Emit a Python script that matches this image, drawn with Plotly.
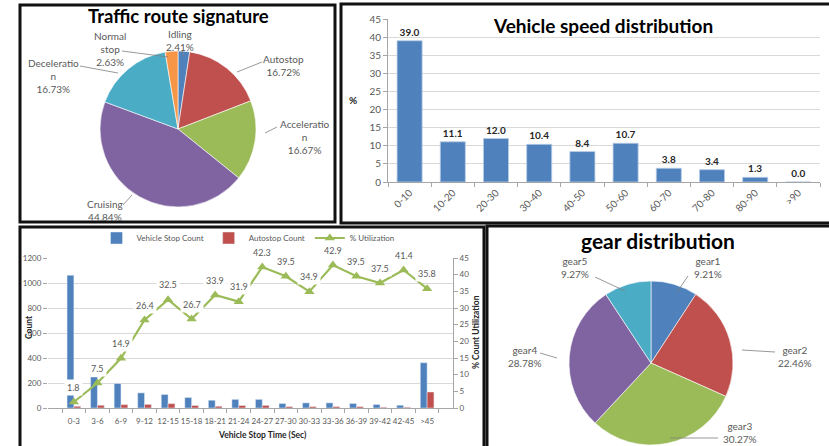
import plotly.graph_objects as go

W, H = 829, 446


def px(x):
    return x / W


def py(y):
    return 1 - y / H


# ---------------- data ----------------
route_labels = ["Idling", "Autostop", "Acceleration", "Cruising", "Deceleration", "Normal stop"]
route_values = [2.41, 16.72, 16.67, 44.84, 16.73, 2.63]

speed_bins = ["0-10", "10-20", "20-30", "30-40", "40-50", "50-60", "60-70", "70-80", "80-90", ">90"]
speed_pct = [39.0, 11.1, 12.0, 10.4, 8.4, 10.7, 3.8, 3.4, 1.3, 0.0]

stop_bins = ["0-3", "3-6", "6-9", "9-12", "12-15", "15-18", "18-21", "21-24",
             "24-27", "27-30", "30-33", "33-36", "36-39", "39-42", "42-45", ">45"]
stop_count = [1062, 248, 196, 121, 108, 84, 62, 69, 69, 36, 41, 41, 36, 28, 22, 362]
autostop_count = [14, 22, 27, 29, 35, 20, 14, 20, 21, 11, 11, 11, 11, 6, 6, 128]
utilization = [1.8, 7.5, 14.9, 26.4, 32.5, 26.7, 33.9, 31.9, 42.3, 39.5, 34.9, 42.9, 39.5, 37.5, 41.4, 35.8]

gear_labels = ["gear1", "gear2", "gear3", "gear4", "gear5"]
gear_values = [9.21, 22.46, 30.27, 28.78, 9.27]

# ---------------- styles ----------------
FONT = "Lato, 'Open Sans', sans-serif"
GRAY = "#595959"
DARK = "#262626"
C_BLUE, C_RED, C_GREEN, C_PURPLE, C_TEAL, C_ORANGE = (
    "#4F81BD", "#C0504D", "#9BBB59", "#8064A2", "#4BACC6", "#F79646")
GRID = "#D9D9D9"
AX = "#A6A6A6"

fig = go.Figure()

# ---- Traffic route signature pie (top-left) ----
fig.add_trace(go.Pie(
    labels=route_labels, values=route_values, sort=False, direction="clockwise",
    rotation=0, textinfo="none", hoverinfo="label+percent",
    marker=dict(colors=[C_BLUE, C_RED, C_GREEN, C_PURPLE, C_TEAL, C_ORANGE],
                line=dict(color="white", width=0.6)),
    domain=dict(x=[px(100), px(256)], y=[py(207), py(51)]),
    showlegend=False,
))

# ---- Vehicle speed distribution bars (top-right) ----
fig.add_trace(go.Bar(
    x=speed_bins, y=speed_pct, xaxis="x", yaxis="y",
    marker=dict(color=C_BLUE, line=dict(color="#B9CDE5", width=0.8)),
    text=[f"{v:.1f}" for v in speed_pct], textposition="outside",
    textfont=dict(family=FONT, size=10, color=DARK, weight="bold"),
    cliponaxis=False, showlegend=False,
))

# ---- Vehicle stop time combo (bottom-left) ----
fig.add_trace(go.Bar(
    x=stop_bins, y=stop_count, xaxis="x2", yaxis="y2", name="Vehicle Stop Count",
    marker=dict(color=C_BLUE),
))
fig.add_trace(go.Bar(
    x=stop_bins, y=autostop_count, xaxis="x2", yaxis="y2", name="Autostop Count",
    marker=dict(color=C_RED),
))
fig.add_trace(go.Scatter(
    x=stop_bins, y=utilization, xaxis="x2", yaxis="y3", name="% Utilization",
    mode="lines+markers", line=dict(color=C_GREEN, width=2.2),
    marker=dict(symbol="triangle-up", size=9, color=C_GREEN),
    cliponaxis=False,
))

# ---- gear distribution pie (bottom-right) ----
fig.add_trace(go.Pie(
    labels=gear_labels, values=gear_values, sort=False, direction="clockwise",
    rotation=0, textinfo="none", hoverinfo="label+percent",
    marker=dict(colors=[C_BLUE, C_RED, C_GREEN, C_PURPLE, C_TEAL],
                line=dict(color="white", width=0.6)),
    domain=dict(x=[px(569), px(733)], y=[py(445), py(281)]),
    showlegend=False,
))

annotations = []
shapes = []


def note(text, x, y, size, color=GRAY, angle=0, **kw):
    annotations.append(dict(text=text, x=px(x), y=py(y), xref="paper", yref="paper",
                            showarrow=False, xanchor="center", yanchor="middle",
                            textangle=angle, align="center",
                            font=dict(family=FONT, size=size, color=color), **kw))


# panel borders
for (x0, y0, x1, y1) in [(20, 5, 335, 222), (341, 4, 840, 223),
                         (20, 227, 484, 460), (487, 226, 840, 460)]:
    shapes.append(dict(type="rect", xref="paper", yref="paper",
                       x0=px(x0), x1=px(x1), y0=py(y1), y1=py(y0),
                       line=dict(color="#111111", width=3), layer="above"))

# titles
note("<b>Traffic route signature</b>", 178, 16, 18.5, "#000000")
note("<b>Vehicle speed distribution</b>", 603, 26, 19, "#000000")
note("<b>gear distribution</b>", 658, 240, 21, "#000000")

# pie labels: (text position, leader start, leader end)
route_wrap = {"Deceleration": "Deceleratio<br>n", "Acceleration": "Acceleratio<br>n",
              "Normal stop": "Normal<br>stop"}
route_pos = {
    "Idling": ((180, 40), ((182, 51), (184, 56))),
    "Autostop": ((283, 66), ((237, 72), (262, 62))),
    "Acceleration": ((305, 137), ((265, 133), (277, 127))),
    "Cruising": ((105, 210), ((123, 205), (132, 195))),
    "Deceleration": ((53, 76), ((80, 66), (118, 73))),
    "Normal stop": ((110, 49), ((122, 51), (168, 57))),
}
for lab, val in zip(route_labels, route_values):
    (tx, ty), ((ax, ay), (bx, by)) = route_pos[lab]
    note(f"{route_wrap.get(lab, lab)}<br>{val:.2f}%", tx, ty, 10)
    shapes.append(dict(type="line", xref="paper", yref="paper", x0=px(ax), y0=py(ay),
                       x1=px(bx), y1=py(by), line=dict(color="#7F7F7F", width=0.8)))

gear_pos = {
    "gear1": ((708, 267), ((677, 292), (688, 276))),
    "gear2": ((795, 356), ((742, 350), (775, 352))),
    "gear3": ((740, 432), ((670, 438), (718, 438))),
    "gear4": ((525, 356), ((540, 353), (557, 358))),
    "gear5": ((575, 267), ((595, 277), (625, 291))),
}
for lab, val in zip(gear_labels, gear_values):
    (tx, ty), ((ax, ay), (bx, by)) = gear_pos[lab]
    note(f"{lab}<br>{val:.2f}%", tx, ty, 10)
    shapes.append(dict(type="line", xref="paper", yref="paper", x0=px(ax), y0=py(ay),
                       x1=px(bx), y1=py(by), line=dict(color="#7F7F7F", width=0.8)))

# utilization labels with white boxes
for b, u in zip(stop_bins, utilization):
    annotations.append(dict(text=f"{u:.1f}", x=b, y=u, xref="x2", yref="y3",
                            showarrow=False, yshift=15, bgcolor="white", borderpad=2,
                            xanchor="center", yanchor="middle",
                            font=dict(family=FONT, size=9, color=GRAY)))

# axis titles
note("<b>%</b>", 353, 100, 10, DARK)
note("<b>Count</b>", 29, 327, 8.5, DARK, angle=-90)
note("<b>% Count Utilization</b>", 476, 332, 8.5, DARK, angle=-90)
note("<b>Vehicle Stop Time (Sec)</b>", 262, 435, 8.5, DARK)

tick_font_tr = dict(family=FONT, size=10, color=GRAY)
tick_font_bl = dict(family=FONT, size=8, color=GRAY)

fig.update_layout(
    width=W, height=H, margin=dict(l=0, r=0, t=0, b=0, autoexpand=False),
    paper_bgcolor="white", plot_bgcolor="white",
    font=dict(family=FONT, color=GRAY),
    barmode="group",
    xaxis=dict(domain=[px(388), px(820)], anchor="y", type="category", automargin=False,
               tickson="boundaries", ticks="outside", ticklen=4, tickcolor=AX,
               showline=True, linecolor=AX, linewidth=1, showgrid=False,
               tickangle=-45, tickfont=tick_font_tr),
    yaxis=dict(domain=[py(182), py(19)], anchor="x", range=[0, 45], dtick=5, automargin=False,
               ticks="outside", ticklen=4, tickcolor=AX,
               showline=True, linecolor=AX, gridcolor=GRID, gridwidth=1,
               zeroline=False, tickfont=tick_font_tr),
    xaxis2=dict(domain=[px(48), px(453)], anchor="y2", type="category", automargin=False,
                tickson="boundaries", ticks="outside", ticklen=4, tickcolor=AX,
                showline=True, linecolor=AX, showgrid=False, tickfont=tick_font_bl,
                tickangle=0, ticklabelstandoff=5),
    yaxis2=dict(domain=[py(408), py(258)], anchor="x2", range=[0, 1200], dtick=200,
                automargin=False,
                ticks="outside", ticklen=4, tickcolor=AX, showline=False,
                gridcolor=GRID, zeroline=False, tickfont=tick_font_bl),
    yaxis3=dict(overlaying="y2", side="right", anchor="x2", range=[0, 45], dtick=5,
                automargin=False,
                ticks="outside", ticklen=4, tickcolor=AX, showline=True,
                linecolor=AX, showgrid=False, zeroline=False, tickfont=tick_font_bl),
    bargap=0.42, bargroupgap=0.0,
    legend=dict(orientation="h", x=px(248), xanchor="center", y=py(238), yanchor="middle",
                font=dict(family=FONT, size=8, color=GRAY), bgcolor="rgba(0,0,0,0)",
                itemwidth=30, tracegroupgap=0),
    annotations=annotations, shapes=shapes,
)

fig.write_html("out.html", config={"displayModeBar": False},
               post_script="document.body.style.margin='0px';document.body.style.overflow='hidden';")
